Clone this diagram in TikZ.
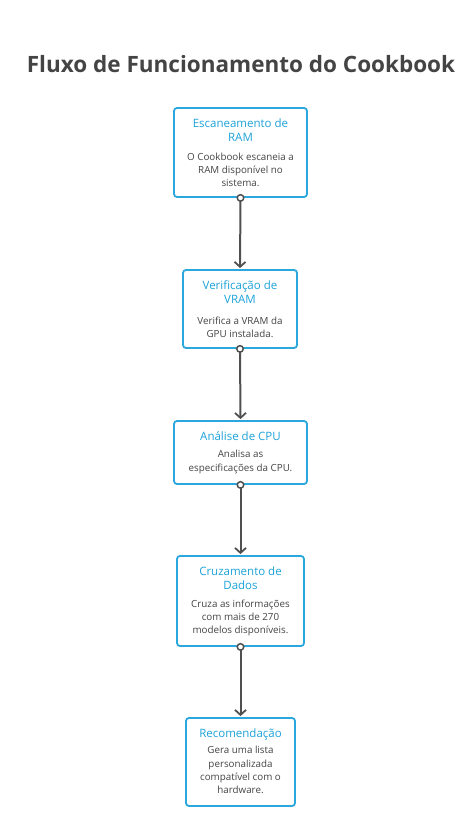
\documentclass[tikz,border=0pt]{standalone}
\usepackage{fontspec}
\setmainfont{Open Sans}
\usetikzlibrary{arrows.meta}
\definecolor{boxblue}{HTML}{2AA7DD}
\definecolor{titleblue}{HTML}{1DA3D9}
\definecolor{txtgray}{HTML}{444444}
\definecolor{linegray}{HTML}{505050}
\tikzset{
  stepbox/.style={draw=boxblue, line width=1.8pt, rounded corners=3pt, fill=white, align=center, inner sep=0pt},
  hd/.style={font=\fontsize{11.5}{13.5}\selectfont, text=titleblue, align=center},
  bd/.style={font=\fontsize{9.8}{13.2}\selectfont, text=txtgray, align=center},
  conn/.style={draw=linegray, line width=2pt, -{Straight Barb[length=5pt,width=11pt,line width=1.8pt]}, shorten >=1pt},
  dot/.style={circle, draw=linegray, fill=white, line width=1.5pt, minimum size=6.5pt, inner sep=0pt}
}
\begin{document}
\begin{tikzpicture}[x=1pt,y=-1pt]
\useasboundingbox (0,0) rectangle (463,821);
\node[font=\fontsize{22.5}{26}\selectfont\bfseries, text=txtgray] (title) at (241,64) {Fluxo de Funcionamento do Cookbook};

\node[stepbox, minimum width=133pt, minimum height=89pt] (b1) at (240.5,152.5) {};
\node[stepbox, minimum width=114pt, minimum height=78pt] (b2) at (240,309) {};
\node[stepbox, minimum width=133pt, minimum height=63pt] (b3) at (240.5,452.5) {};
\node[stepbox, minimum width=127pt, minimum height=90pt] (b4) at (240.5,601) {};
\node[stepbox, minimum width=109pt, minimum height=88pt] (b5) at (240.5,762) {};

\node[hd] (t1) at (240.5,130) {Escaneamento de\\RAM};
\node[bd] (d1) at (240.5,170) {O Cookbook escaneia a\\RAM disponível no\\sistema.};

\node[hd] (t2) at (240,292) {Verificação de\\VRAM};
\node[bd] (d2) at (240,327) {Verifica a VRAM da\\GPU instalada.};

\node[hd] (t3) at (240.5,436) {Análise de CPU};
\node[bd] (d3) at (240.5,462) {Analisa as\\especificações da CPU.};

\node[hd] (t4) at (240.5,578) {Cruzamento de\\Dados};
\node[bd] (d4) at (240.5,618) {Cruza as informações\\com mais de 270\\modelos disponíveis.};

\node[hd] (t5) at (240.5,735) {Recomendação};
\node[bd] (d5) at (240.5,770) {Gera uma lista\\personalizada\\compatível com o\\hardware.};

\foreach \a/\b in {b1/b2,b2/b3,b3/b4,b4/b5}{
  \draw[conn] (\a.south) -- (\b.north);
  \node[dot] at (\a.south) {};
}
\end{tikzpicture}
\end{document}
